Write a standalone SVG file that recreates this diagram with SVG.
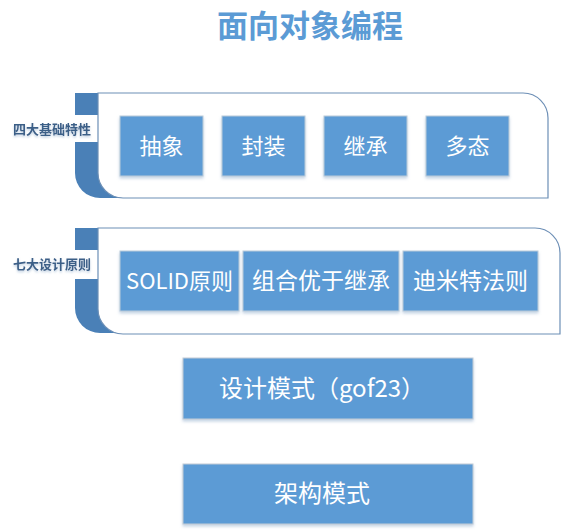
<svg xmlns="http://www.w3.org/2000/svg" width="567" height="532" viewBox="0 0 567 532">
<defs>
<filter id="sh" x="-10%" y="-10%" width="120%" height="130%">
<feDropShadow dx="0" dy="2" stdDeviation="1.5" flood-color="#9bb5d0" flood-opacity="0.6"/>
</filter>
<filter id="tsh" x="-10%" y="-20%" width="120%" height="150%">
<feDropShadow dx="0" dy="1.5" stdDeviation="1" flood-color="#9bb5d0" flood-opacity="0.7"/>
</filter>
</defs>
<style>
.title{font-family:"Noto Sans CJK SC","Noto Sans",sans-serif;font-size:31px;font-weight:bold;fill:#5b9bd5;text-anchor:middle}
.box{fill:#5b9bd5;stroke:#bccbd9;stroke-width:1;filter:url(#sh)}
.bt{font-family:"Noto Sans CJK SC","Noto Sans",sans-serif;font-size:22px;fill:#ffffff;text-anchor:middle}
.bt2{font-family:"Noto Sans CJK SC","Noto Sans",sans-serif;font-size:23px;fill:#ffffff;text-anchor:middle}
.tab{fill:#4a80b7}
.cont{fill:#ffffff;stroke:#6d8fb6;stroke-width:1.2}
.lbl{font-family:"Noto Sans CJK SC","Noto Sans",sans-serif;font-size:13px;font-weight:bold;fill:#3b5e87;text-anchor:middle;filter:url(#tsh)}
</style>
<rect width="567" height="532" fill="#ffffff"/>
<text class="title" x="310" y="37">面向对象编程</text>

<g id="group-basic">
<path class="tab" d="M75,93 H140 V198 H100 A25,25 0 0 1 75,173 Z"/>
<rect x="8" y="115" width="90" height="27" fill="#ffffff"/>
<path class="cont" d="M98,93 H523 A25,25 0 0 1 548,118 V198 H123 A25,25 0 0 1 98,173 Z"/>
<text class="lbl" x="52" y="134">四大基础特性</text>
</g>
<g id="node-chouxiang"><rect class="box" x="120" y="116" width="83" height="60"/><text class="bt" x="161.5" y="154">抽象</text></g>
<g id="node-fengzhuang"><rect class="box" x="222" y="116" width="83" height="60"/><text class="bt" x="263.5" y="154">封装</text></g>
<g id="node-jicheng"><rect class="box" x="324" y="116" width="83" height="60"/><text class="bt" x="365.5" y="154">继承</text></g>
<g id="node-duotai"><rect class="box" x="426" y="116" width="83" height="60"/><text class="bt" x="467.5" y="154">多态</text></g>

<g id="group-principles">
<path class="tab" d="M75,228 H140 V333 H100 A25,25 0 0 1 75,308 Z"/>
<rect x="8" y="250" width="90" height="29" fill="#ffffff"/>
<path class="cont" d="M98,228 H535 A25,25 0 0 1 560,253 V334 H123 A25,25 0 0 1 98,309 Z"/>
<text class="lbl" x="52" y="269">七大设计原则</text>
</g>
<g id="node-solid"><rect class="box" x="120" y="251" width="119" height="60"/><text class="bt" x="179.5" y="289">SOLID原则</text></g>
<g id="node-composition"><rect class="box" x="243" y="251" width="156" height="60"/><text class="bt2" x="321" y="289">组合优于继承</text></g>
<g id="node-demeter"><rect class="box" x="403" y="251" width="135" height="60"/><text class="bt2" x="470.5" y="289">迪米特法则</text></g>

<g id="node-gof"><rect class="box" x="183" y="358" width="290" height="61" style="stroke:#c4ccd6"/><text class="bt" x="322" y="397" style="font-size:24px">设计模式（gof23）</text></g>
<g id="node-arch"><rect class="box" x="183" y="464" width="290" height="60" style="stroke:#c4ccd6"/><text class="bt" x="322" y="502" style="font-size:24px">架构模式</text></g>
</svg>
